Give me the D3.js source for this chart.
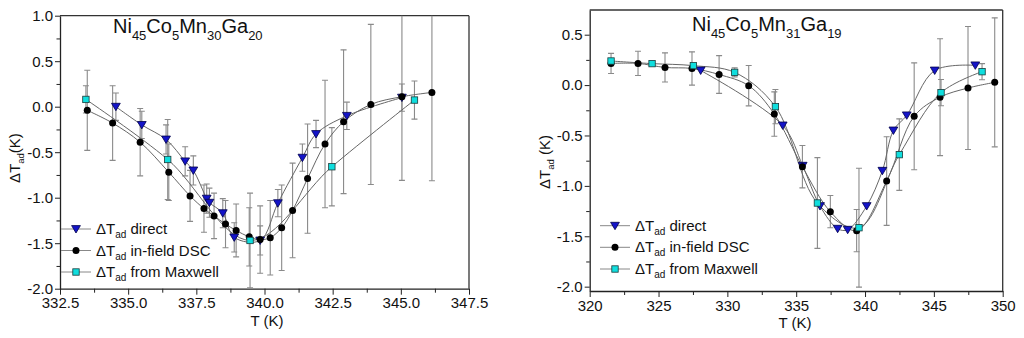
<!DOCTYPE html>
<html><head><meta charset="utf-8">
<script src="https://cdn.jsdelivr.net/npm/d3@7"></script>
<style>
body{margin:0;background:#fff}
svg{display:block}
text{font-family:"Liberation Sans",Arial,sans-serif;fill:#111}
</style>
</head><body>
<svg id="c" width="1024" height="338"></svg>
<script>
// ---------- Left panel data: Ni45Co5Mn30Ga20 ----------
const leftDirectT   = [334.55,335.50,336.39,337.09,337.39,337.88,337.98,338.47,338.89,339.84,340.49,341.39,341.89,343.02,345.04];
const leftDirectDT  = [0.00,-0.20,-0.36,-0.60,-0.70,-1.01,-1.055,-1.17,-1.436,-1.47,-1.06,-0.56,-0.30,-0.10,0.10];
const leftDirectErr = [0.15,0.15,0.16,0.16,0.16,0.16,0.16,0.16,0.16,0.16,0.15,0.15,0.15,0.15,0.15];

const leftDscT   = [333.50,334.43,335.44,336.49,337.27,337.78,338.15,338.57,338.96,339.44,339.84,340.21,340.63,341.03,341.58,342.22,342.90,343.90,345.04,346.14];
const leftDscDT  = [-0.04,-0.18,-0.39,-0.72,-0.98,-1.12,-1.20,-1.29,-1.36,-1.43,-1.46,-1.44,-1.33,-1.14,-0.79,-0.41,-0.165,0.025,0.11,0.157];
const leftDscErr = [0.44,0.41,0.37,0.31,0.28,0.26,0.25,0.26,0.29,0.32,0.37,0.41,0.47,0.52,0.60,0.70,0.79,0.88,0.92,0.97];

const leftMaxT   = [333.45,336.45,339.47,342.47,345.50];
const leftMaxDT  = [0.08,-0.58,-1.47,-0.66,0.073];
const leftMaxErr = [0.15,0.44,0.52,0.43,0.21];

const leftXTicks = [332.5,335.0,337.5,340.0,342.5,345.0,347.5];
const leftYTicks = [-2.0,-1.5,-1.0,-0.5,0.0,0.5,1.0];
const leftTitle = [["Ni","45"],["Co","5"],["Mn","30"],["Ga","20"]];

// ---------- Right panel data: Ni45Co5Mn31Ga19 ----------
const rightDirectT   = [328.06,334.02,335.47,336.73,338.01,338.74,340.12,341.26,342.06,343.03,345.06,348.01];
const rightDirectDT  = [0.145,-0.40,-0.80,-1.20,-1.425,-1.435,-1.20,-0.85,-0.45,-0.30,0.145,0.196];
const rightDirectErr = [0,0,0,0,0,0,0,0,0,0,0,0];

const rightDscT   = [321.55,323.51,325.47,327.43,329.40,331.55,333.41,335.45,337.48,339.39,341.57,343.57,345.45,347.48,349.42];
const rightDscDT  = [0.215,0.215,0.175,0.165,0.105,-0.006,-0.287,-0.81,-1.256,-1.444,-0.952,-0.31,-0.12,-0.029,0.027];
const rightDscErr = [0.10,0.12,0.145,0.165,0.187,0.20,0.22,0.21,0.16,0.21,0.44,0.53,0.58,0.61,0.64];

const rightMaxT   = [321.55,324.53,327.53,330.53,333.49,336.54,339.56,342.49,345.52,348.50];
const rightMaxDT  = [0.239,0.213,0.193,0.126,-0.214,-1.17,-1.415,-0.69,-0.075,0.133];
const rightMaxErr = [0,0.02,0,0.045,0.17,0.45,0.59,0.355,0.13,0.08];

const rightXTicks = [320,325,330,335,340,345,350];
const rightYTicks = [-2.0,-1.5,-1.0,-0.5,0.0,0.5];
const rightTitle = [["Ni","45"],["Co","5"],["Mn","31"],["Ga","19"]];

const legendNames = ["direct","in-field DSC","from Maxwell"];

// ---------- drawing ----------
const svg = d3.select("#c");
const LINE = "#666", ERR = "#8a8a8a";

function zip(T, V, E){ return T.map((t,i)=>({x:t,y:V[i],e:E[i]})); }

function marker(g, kind, cx, cy){
  if(kind===0){ // down triangle
    g.append("path").attr("d",`M${cx-4.4},${cy-3.4}L${cx+4.4},${cy-3.4}L${cx},${cy+4}Z`)
     .attr("fill","#1414c8").attr("stroke","#00004a").attr("stroke-width",0.8);
  } else if(kind===1){
    g.append("circle").attr("cx",cx).attr("cy",cy).attr("r",3.5).attr("fill","#000");
  } else {
    g.append("rect").attr("x",cx-3.2).attr("y",cy-3.2).attr("width",6.4).attr("height",6.4)
     .attr("fill","#10dede").attr("stroke","#1a3a3a").attr("stroke-width",0.8);
  }
}

function panel(o){
  const x = d3.scaleLinear().domain(o.xd).range(o.xr);
  const y = d3.scaleLinear().domain(o.yd).range(o.yr);
  const g = svg.append("g");
  const id = "clip"+o.id;
  svg.append("clipPath").attr("id",id).append("rect")
    .attr("x",o.xr[0]).attr("y",o.yr[1]).attr("width",o.xr[1]-o.xr[0]).attr("height",o.yr[0]-o.yr[1]);

  const xMinor = [], yMinor = [];
  for(let i=0;i<o.xt.length-1;i++) xMinor.push((o.xt[i]+o.xt[i+1])/2);
  for(let i=0;i<o.yt.length-1;i++) yMinor.push((o.yt[i]+o.yt[i+1])/2);

  g.append("g").attr("transform",`translate(0,${o.yr[0]})`)
    .call(d3.axisBottom(x).tickValues(o.xt).tickFormat(d3.format(o.xfmt)).tickSize(6).tickPadding(3).tickSizeOuter(0));
  g.append("g").attr("transform",`translate(0,${o.yr[0]})`)
    .call(d3.axisBottom(x).tickValues(xMinor).tickFormat("").tickSize(4).tickSizeOuter(0))
    .select(".domain").remove();
  g.append("g").attr("transform",`translate(${o.xr[0]},0)`)
    .call(d3.axisLeft(y).tickValues(o.yt).tickFormat(d=>d3.format(".1f")(d).replace("\u2212","-")).tickSize(5).tickPadding(2).tickSizeOuter(0));
  g.append("g").attr("transform",`translate(${o.xr[0]},0)`)
    .call(d3.axisLeft(y).tickValues(yMinor).tickFormat("").tickSize(3.5).tickSizeOuter(0))
    .select(".domain").remove();
  g.selectAll(".tick text").attr("font-size",15).attr("font-family","Liberation Sans, Arial, sans-serif").attr("fill","#111");
  g.selectAll(".tick line").attr("stroke","#222");
  g.selectAll(".domain").attr("stroke","#222").attr("stroke-width",1.3);

  // frame top and right
  g.append("line").attr("x1",o.xr[0]).attr("x2",o.xr[1]).attr("y1",o.yr[1]).attr("y2",o.yr[1]).attr("stroke","#333").attr("stroke-width",1.3);
  g.append("line").attr("x1",o.xr[1]).attr("x2",o.xr[1]).attr("y1",o.yr[1]).attr("y2",o.yr[0]).attr("stroke","#333").attr("stroke-width",1.3);

  const plot = g.append("g").attr("clip-path",`url(#${id})`);
  const series = o.series;
  series.forEach(s=>{
    s.data.filter(d=>d.e>0).forEach(d=>{
      const xx = x(d.x), y1 = y(d.y+d.e), y2 = y(d.y-d.e);
      plot.append("line").attr("x1",xx).attr("x2",xx).attr("y1",y1).attr("y2",y2).attr("stroke",ERR).attr("stroke-width",1.1);
      [y1,y2].forEach(yy=>plot.append("line").attr("x1",xx-3).attr("x2",xx+3).attr("y1",yy).attr("y2",yy).attr("stroke",ERR).attr("stroke-width",1.1));
    });
  });
  const line = d3.line().x(d=>x(d.x)).y(d=>y(d.y)).curve(d3.curveCatmullRom.alpha(0.5));
  series.forEach(s=>{
    plot.append("path").attr("d",line(s.data)).attr("fill","none").attr("stroke",LINE).attr("stroke-width",1);
  });
  series.forEach(s=>{
    s.data.forEach(d=>marker(plot, s.kind, x(d.x), y(d.y)));
  });

  // title
  const t = svg.append("text").attr("x",o.title.x).attr("y",o.title.y).attr("font-size",20);
  o.title.parts.forEach((p,i)=>{
    t.append("tspan").text(p[0]).attr("font-size",20).attr("dy", i? -6.5 : 0);
    t.append("tspan").text(p[1]).attr("font-size",13).attr("dy",6.5);
  });

  // axis labels
  svg.append("text").attr("x",o.xlab[0]).attr("y",o.xlab[1]).attr("text-anchor","middle").attr("font-size",15).text("T (K)");
  const yl = svg.append("text").attr("transform",`translate(${o.ylab[0]},${o.ylab[1]}) rotate(-90)`)
    .attr("text-anchor","middle").attr("font-size",15);
  yl.append("tspan").text("\u0394T");
  yl.append("tspan").text("ad").attr("font-size",9.5).attr("dy",4);
  yl.append("tspan").text(o.ylabSpace+"(K)").attr("dy",-4);

  // legend
  o.legend.rows.forEach((ry,i)=>{
    const lg = svg.append("g");
    lg.append("line").attr("x1",o.legend.x0).attr("x2",o.legend.x1).attr("y1",ry).attr("y2",ry).attr("stroke","#888").attr("stroke-width",1);
    marker(lg, i, (o.legend.x0+o.legend.x1)/2, ry);
    const tx = lg.append("text").attr("x",o.legend.tx).attr("y",ry+5).attr("font-size",15);
    tx.append("tspan").text("\u0394T");
    tx.append("tspan").text("ad").attr("font-size",10).attr("dy",4);
    tx.append("tspan").text(" "+legendNames[i]).attr("dy",-4);
  });
}

panel({
  id:"L", xd:[332.5,347.5], xr:[60,469], yd:[-2,1], yr:[288.7,15.7],
  xt:leftXTicks, yt:leftYTicks, xfmt:".1f",
  series:[
    {kind:0, data:zip(leftDirectT,leftDirectDT,leftDirectErr)},
    {kind:1, data:zip(leftDscT,leftDscDT,leftDscErr)},
    {kind:2, data:zip(leftMaxT,leftMaxDT,leftMaxErr)}
  ],
  title:{x:113,y:33,parts:leftTitle},
  xlab:[267,326], ylab:[20,158], ylabSpace:"",
  legend:{x0:61,x1:91,tx:96,rows:[229,250.5,272]}
});

panel({
  id:"R", xd:[320,350], xr:[589.7,1002.7], yd:[-2.043,0.745], yr:[291,10],
  xt:rightXTicks, yt:rightYTicks, xfmt:"d",
  series:[
    {kind:0, data:zip(rightDirectT,rightDirectDT,rightDirectErr)},
    {kind:1, data:zip(rightDscT,rightDscDT,rightDscErr)},
    {kind:2, data:zip(rightMaxT,rightMaxDT,rightMaxErr)}
  ],
  title:{x:692,y:31,parts:rightTitle},
  xlab:[795,328], ylab:[550,162], ylabSpace:" ",
  legend:{x0:600,x1:630,tx:635,rows:[225.7,247.3,269]}
});
</script>
</body></html>
